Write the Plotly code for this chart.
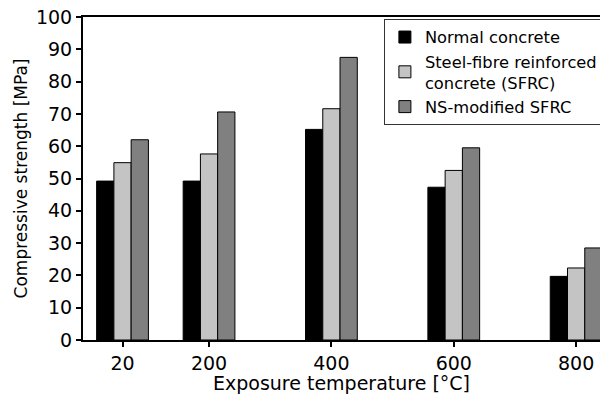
import plotly.graph_objects as go

temperatures = ["20", "200", "400", "600", "800"]
normal_concrete = [49.2, 49.2, 65.2, 47.3, 19.7]
sfrc = [54.9, 57.6, 71.6, 52.5, 22.3]
ns_sfrc = [62.0, 70.6, 87.5, 59.5, 28.5]
series_names = ["Normal concrete", "Steel-fibre reinforced<br>concrete (SFRC)", "NS-modified SFRC"]

# layout: slot positions of the temperature groups on the axis
slot_pos = [0.293, 1, 2, 3, 4]
colors = ["#000000", "#c4c4c4", "#808080"]
bw = 0.141
offsets = [-1.5 * bw, -0.5 * bw, 0.5 * bw]

fig = go.Figure()
for name, vals, col, off in zip(series_names, [normal_concrete, sfrc, ns_sfrc], colors, offsets):
    fig.add_trace(go.Bar(
        x=slot_pos, y=vals, name=name, width=bw, offset=off,
        marker=dict(color=col, line=dict(color="#000000", width=1)),
    ))

font = "DejaVu Sans"
fig.update_layout(
    width=600, height=394,
    margin=dict(l=83, r=0, t=17, b=54, autoexpand=False),
    plot_bgcolor="white", paper_bgcolor="white",
    font=dict(family=font, color="#000000"),
    showlegend=True,
    legend=dict(
        x=0.582, y=0.994, xanchor="left", yanchor="top",
        bgcolor="white", bordercolor="#333333", borderwidth=1,
        font=dict(size=16.3, family=font), tracegroupgap=0,
    ),
    xaxis=dict(
        range=[-0.03, 4.195], tickmode="array", tickvals=slot_pos, ticktext=temperatures,
        showline=True, linecolor="#000000", linewidth=2, mirror=True,
        ticks="outside", ticklen=5, tickwidth=2, tickcolor="#000000",
        tickfont=dict(size=19), showgrid=False, zeroline=False, automargin=True,
        title=dict(text="Exposure temperature [°C]", font=dict(size=19), standoff=6),
    ),
    yaxis=dict(
        range=[0, 100], dtick=10, tick0=0,
        showline=True, linecolor="#000000", linewidth=2,
        ticks="outside", ticklen=5, tickwidth=2, tickcolor="#000000",
        tickfont=dict(size=19), showgrid=False, zeroline=False, automargin=False,
        title=dict(text="Compressive strength [MPa]", font=dict(size=17), standoff=4),
    ),
)

fig.write_html("out.html")
